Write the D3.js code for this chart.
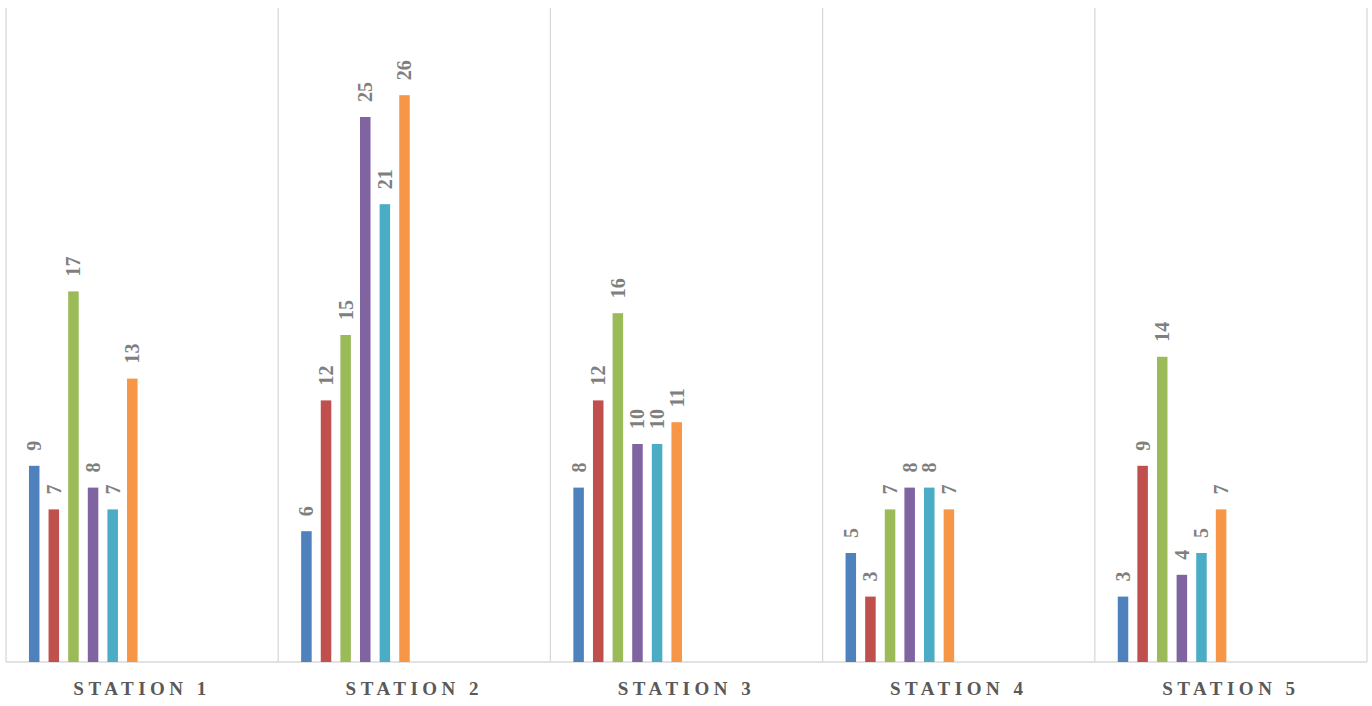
<!DOCTYPE html>
<html><head><meta charset="utf-8">
<script src="https://cdn.jsdelivr.net/npm/d3@7"></script>
<style>body{margin:0;background:#fff}svg{display:block}</style>
</head><body><svg id="c" width="1372" height="706"></svg>
<script>
const categories = ["STATION 1","STATION 2","STATION 3","STATION 4","STATION 5"];
const seriesNames = ["S1","S2","S3","S4","S5","S6"];
const s1 = [9, 6, 8, 5, 3];
const s2 = [7, 12, 12, 3, 9];
const s3 = [17, 15, 16, 7, 14];
const s4 = [8, 25, 10, 8, 4];
const s5 = [7, 21, 10, 8, 5];
const s6 = [13, 26, 11, 7, 7];
const seriesValues = [s1, s2, s3, s4, s5, s6];
const colors = ["#4F81BD","#C0504D","#9BBB59","#8064A2","#4BACC6","#F79646"];
const emptySlots = ["e1","e2","e3","e4","e5","e6"];

const svg = d3.select("#c");
const m = {left:6, right:5, top:8, bottom:44};
const W = 1372, H = 706;
const x = d3.scaleBand().domain(categories).range([m.left, W - m.right]).padding(0);
const y = d3.scaleLinear().domain([0, 30]).range([H - m.bottom, m.top]);
const xi = d3.scaleBand().domain(seriesNames.concat(emptySlots)).range([0, x.bandwidth()])
  .paddingInner(0.464).paddingOuter(1.17).align(0.5);

// grid lines
const bounds = categories.map(c => x(c)).concat([W - m.right]);
svg.append("g").selectAll("line").data(bounds).join("line")
  .attr("x1", d => d).attr("x2", d => d)
  .attr("y1", y(30)).attr("y2", y(0))
  .attr("stroke", "#D9D9D9").attr("stroke-width", 1.3);
svg.append("line").attr("x1", m.left).attr("x2", W - m.right)
  .attr("y1", y(0)).attr("y2", y(0)).attr("stroke", "#D9D9D9").attr("stroke-width", 1.5);

const data = [];
categories.forEach((c, ci) => seriesNames.forEach((s, si) => data.push({c, s, si, v: seriesValues[si][ci]})));

svg.append("g").selectAll("rect").data(data).join("rect")
  .attr("x", d => x(d.c) + xi(d.s))
  .attr("width", xi.bandwidth())
  .attr("y", d => y(d.v))
  .attr("height", d => y(0) - y(d.v))
  .attr("fill", d => colors[d.si]);

svg.append("g").selectAll("text").data(data).join("text")
  .attr("transform", d => `translate(${x(d.c) + xi(d.s) + xi.bandwidth()/2 + 7},${y(d.v) - 15}) rotate(-90)`)
  .attr("text-anchor", "start")
  .attr("font-family", "'Liberation Serif','Times New Roman',serif")
  .attr("font-weight", "bold")
  .attr("font-size", 20)
  .attr("fill", "#7F7F7F")
  .text(d => d.v);

svg.append("g").selectAll("text").data(categories).join("text")
  .attr("x", d => x(d) + x.bandwidth()/2)
  .attr("y", 695)
  .attr("text-anchor", "middle")
  .attr("font-family", "'Liberation Serif','Times New Roman',serif")
  .attr("font-weight", "bold")
  .attr("font-size", 19)
  .attr("letter-spacing", 4.5)
  .attr("fill", "#595959")
  .text(d => d);
</script></body></html>
